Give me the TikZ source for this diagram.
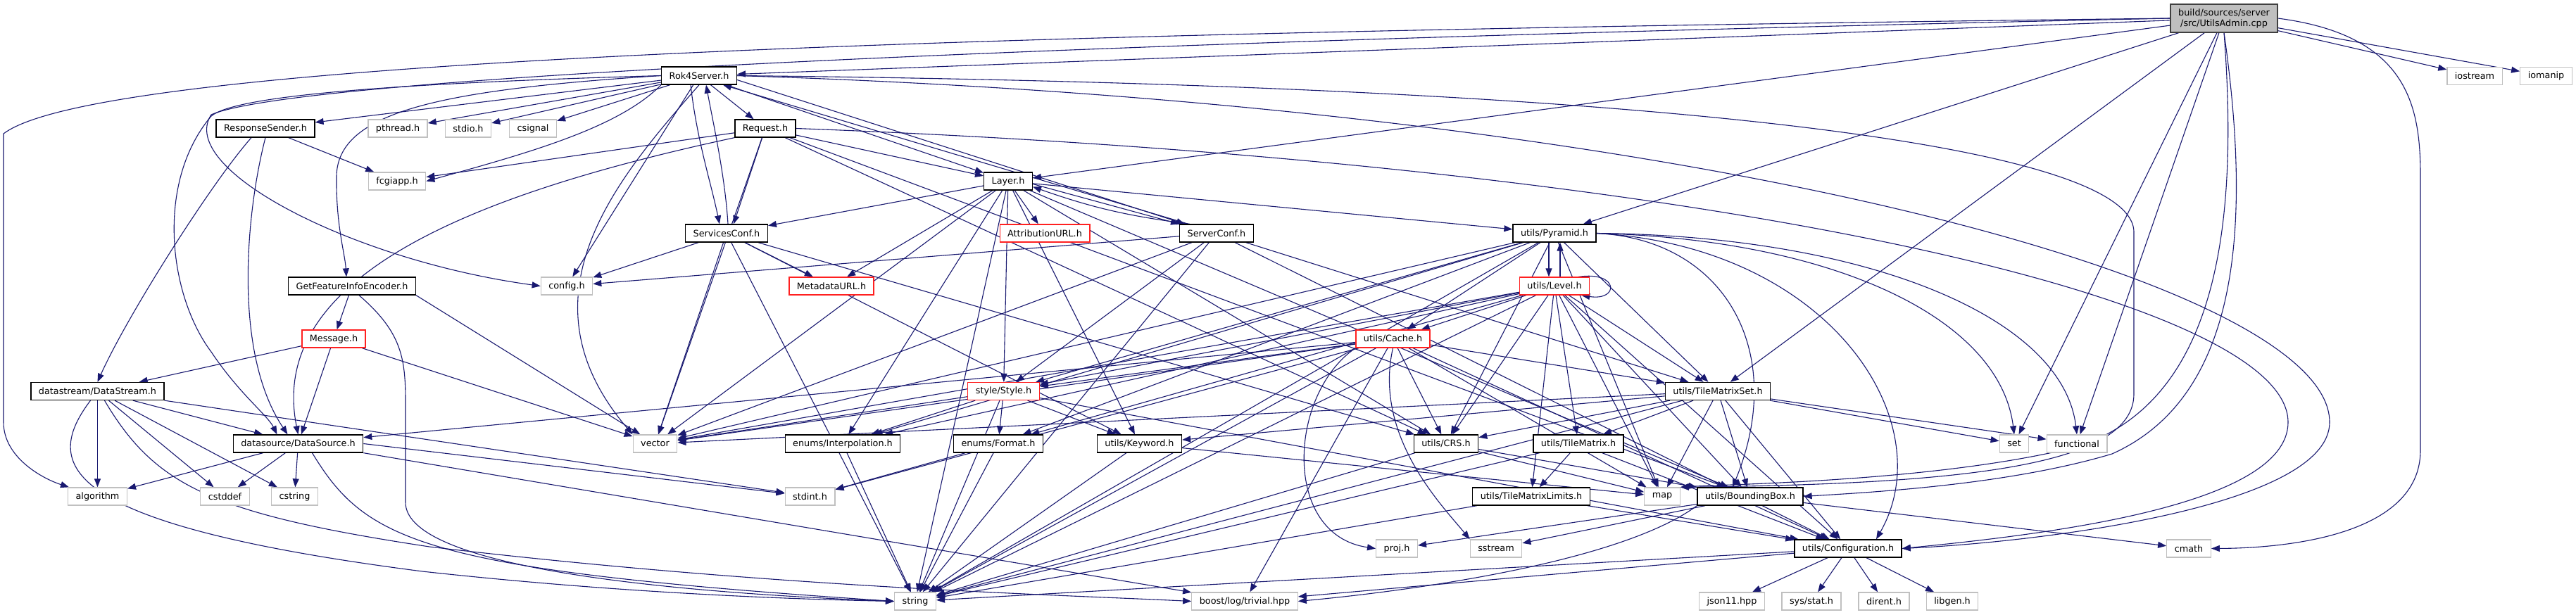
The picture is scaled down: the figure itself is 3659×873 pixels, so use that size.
\documentclass[tikz,border=0pt]{standalone}
\usepackage{fontspec}
\setmainfont{DejaVu Sans}
\usepackage{tikz}
\usetikzlibrary{arrows.meta, backgrounds}
\usepackage{xcolor}
\definecolor{DoxyEdge}{HTML}{191970}
\definecolor{DoxyFill}{HTML}{BFBFBF}
\definecolor{DoxyDark}{HTML}{404040}
\definecolor{DoxyLight}{HTML}{C0C0C0}
\definecolor{DoxyRed}{HTML}{FF2020}
\tikzset{
    % Box styles - sharp corners, one per kind of file
    mainfile/.style={
        rectangle,
        draw=DoxyDark,
        fill=DoxyFill,
        line width=1.3pt,
        inner xsep=11pt,
        inner ysep=3pt,
        minimum height=40pt,
        align=center,
        font=\fontsize{12.8}{15}\selectfont
    },
    header/.style={
        rectangle,
        draw=black,
        fill=white,
        line width=1.3pt,
        inner xsep=11pt,
        inner ysep=0pt,
        minimum height=25pt,
        font=\fontsize{12.8}{15}\selectfont
    },
    sysheader/.style={
        header,
        draw=DoxyLight
    },
    cutheader/.style={
        header,
        draw=DoxyRed
    },
    % Arrow style
    incl/.style={
        -{Triangle[length=12pt,width=9pt]},
        line width=1.1pt,
        draw=DoxyEdge
    }
}
\begin{document}
\begin{tikzpicture}[x=1pt, y=-1pt]
    \useasboundingbox (0,0) rectangle (3659,873);

    \node[mainfile] (uadmin) at (3159,26) {build/sources/server\\/src/UtilsAdmin.cpp};
    \node[header] (rok4) at (993,107.5) {Rok4Server.h};
    \node[sysheader] (iostream) at (3515,108) {iostream};
    \node[sysheader] (iomanip) at (3616.5,108) {iomanip};

    \node[header] (respsender) at (377,182.5) {ResponseSender.h};
    \node[sysheader] (pthread) at (565,182.5) {pthread.h};
    \node[sysheader] (stdio) at (665,182.5) {stdio.h};
    \node[sysheader] (csignal) at (757,182.5) {csignal};
    \node[header] (request) at (1087,182.5) {Request.h};

    \node[sysheader] (fcgiapp) at (564,257.5) {fcgiapp.h};
    \node[header] (layer) at (1432,257.5) {Layer.h};

    \node[header] (servicesconf) at (1032,331.5) {ServicesConf.h};
    \node[cutheader] (attributionurl) at (1484,331.5) {AttributionURL.h};
    \node[header] (serverconf) at (1728,331.5) {ServerConf.h};
    \node[header] (pyramid) at (2208,331.5) {utils/Pyramid.h};

    \node[header] (gfiencoder) at (500,406.5) {GetFeatureInfoEncoder.h};
    \node[sysheader] (configh) at (805,406.5) {config.h};
    \node[cutheader] (metadataurl) at (1181,406.5) {MetadataURL.h};
    \node[cutheader] (level) at (2208,406.5) {utils/Level.h};

    \node[cutheader] (message) at (474,481.5) {Message.h};
    \node[cutheader] (cache) at (1978.5,481.5) {utils/Cache.h};

    \node[header] (datastream) at (138.5,556) {datastream/DataStream.h};
    \node[cutheader] (style) at (1425.5,556) {style/Style.h};
    \node[header] (tms) at (2440,556) {utils/TileMatrixSet.h};

    \node[header] (datasource) at (423.5,630.5) {datasource/DataSource.h};
    \node[sysheader] (vector) at (930.5,630.5) {vector};
    \node[header] (interpolation) at (1197,630.5) {enums/Interpolation.h};
    \node[header] (format) at (1418,630.5) {enums/Format.h};
    \node[header] (keyword) at (1618.5,630.5) {utils/Keyword.h};
    \node[header] (crs) at (2054,630.5) {utils/CRS.h};
    \node[header] (tilematrix) at (2242,630.5) {utils/TileMatrix.h};
    \node[sysheader] (set) at (2861,630.5) {set};
    \node[sysheader] (functional) at (2950,630.5) {functional};

    \node[sysheader] (algorithm) at (138.5,705.5) {algorithm};
    \node[sysheader] (cstddef) at (319.5,705.5) {cstddef};
    \node[sysheader] (cstring) at (418.5,705.5) {cstring};
    \node[sysheader] (stdint) at (1150.5,705.5) {stdint.h};
    \node[header] (tml) at (2175,705.5) {utils/TileMatrixLimits.h};
    \node[sysheader] (map) at (2361,705.5) {map};
    \node[header] (bbox) at (2486,705.5) {utils/BoundingBox.h};

    \node[sysheader] (proj) at (1984,779.5) {proj.h};
    \node[sysheader] (sstream) at (2125,779.5) {sstream};
    \node[header] (configuration) at (2625,779.5) {utils/Configuration.h};
    \node[sysheader] (cmath) at (3109,779.5) {cmath};

    \node[sysheader] (string) at (1300,854.5) {string};
    \node[sysheader] (boost) at (1768,854.5) {boost/log/trivial.hpp};
    \node[sysheader] (json) at (2460,854.5) {json11.hpp};
    \node[sysheader] (sysstat) at (2573,854.5) {sys/stat.h};
    \node[sysheader] (dirent) at (2676,854.5) {dirent.h};
    \node[sysheader] (libgen) at (2773,854.5) {libgen.h};

    \begin{scope}[on background layer]
    \fill[white] (0,0) rectangle (3659,873);

    % UtilsAdmin.cpp
    \draw[incl] (uadmin) -- (rok4);
    \draw[incl] (uadmin) -- (iostream);
    \draw[incl] (uadmin) -- (iomanip);
    \draw[incl] (uadmin.west) .. controls (1500,45) and (150,80) .. (5,190) -- (5,600) .. controls (5,650) and (60,680) .. (algorithm);
    \draw[incl] (uadmin.west) .. controls (1500,60) and (420,110) .. (300,163) .. controls (250,240) and (500,370) .. (configh.west);
    \draw[incl] (uadmin) -- (layer);
    \draw[incl] (uadmin) -- (pyramid);
    \draw[incl] (uadmin) -- (tms);
    \draw[incl] (uadmin) -- (set);
    \draw[incl] (uadmin) -- (functional);
    \draw[incl] (uadmin.east) .. controls (3420,50) and (3438,150) .. (3438,250) -- (3438,640) .. controls (3438,760) and (3250,779) .. (cmath.east);
    \draw[incl] (uadmin.south) .. controls (3195,300) and (3190,560) .. (3000,645) .. controls (2850,690) and (2650,700) .. (bbox.east);
    \draw[incl] (uadmin.south) .. controls (3180,320) and (3150,570) .. (2950,635) .. controls (2750,685) and (2450,688) .. (map.north east);

    % Rok4Server.h
    \draw[incl] (rok4) -- (respsender);
    \draw[incl] (rok4) -- (pthread);
    \draw[incl] (rok4) -- (stdio);
    \draw[incl] (rok4) -- (csignal);
    \draw[incl] (rok4) -- (request);
    \draw[incl] (rok4.south west) .. controls (880,180) and (760,215) .. (fcgiapp.east);
    \draw[incl] (rok4.west) .. controls (620,128) and (480,160) .. (478,250) .. controls (477,320) and (490,360) .. ([xshift=-8pt]gfiencoder.north);
    \draw[incl] (rok4.west) .. controls (500,120) and (330,140) .. (300,165) .. controls (220,260) and (240,420) .. (300,500) .. controls (340,560) and (380,590) .. ([xshift=-30pt]datasource.north);
    \draw[incl] (rok4) -- (configh);
    \draw[incl] (rok4.south) .. controls (880,250) and (730,420) .. (vector.north west);
    \draw[incl] ([xshift=-12pt]rok4.south) .. controls (990,200) and (1010,260) .. ([xshift=-10pt]servicesconf.north);
    \draw[incl] (rok4) -- (layer);
    \draw[incl] ([yshift=-6pt]rok4.east) -- ([xshift=8pt]serverconf.north west);
    \draw[incl] (rok4.east) .. controls (2300,120) and (3031,200) .. (3031,330) -- (3031,560) .. controls (3031,660) and (2800,688) .. (map.north east);
    \draw[incl] (rok4.east) .. controls (2400,150) and (3309,400) .. (3309,600) .. controls (3309,720) and (2900,770) .. (configuration.east);

    % ResponseSender.h
    \draw[incl] (respsender) -- (fcgiapp);
    \draw[incl] ([xshift=-20pt]respsender.south) .. controls (300,260) and (180,450) .. (datastream.north);
    \draw[incl] (respsender.south) .. controls (350,300) and (330,500) .. ([xshift=-15pt]datasource.north);

    % Request.h
    \draw[incl] (request) -- (fcgiapp);
    \draw[incl] (request.south west) .. controls (650,280) and (380,400) .. (datasource.north);
    \draw[incl] (request) -- ([xshift=10pt]servicesconf.north);
    \draw[incl] (request) -- (layer);
    \draw[incl] (request) -- (vector);
    \draw[incl] (request) -- (crs);
    \draw[incl] (request) -- (bbox);
    \draw[incl] (request.east) .. controls (2400,230) and (3250,420) .. (3250,600) .. controls (3250,720) and (2900,760) .. (configuration.east);

    % GetFeatureInfoEncoder.h and Message.h
    \draw[incl] (gfiencoder) -- (message);
    \draw[incl] (gfiencoder.south east) -- (vector);
    \draw[incl] ([xshift=10pt]gfiencoder.south) .. controls (580,480) and (576,520) .. (576,600) -- (576,714) .. controls (576,800) and (900,840) .. (string.west);
    \draw[incl] (message) -- (datastream);
    \draw[incl] (message) -- (datasource);
    \draw[incl] (message) -- (vector);

    % DataStream.h and DataSource.h
    \draw[incl] (datastream) -- (algorithm);
    \draw[incl] (datastream) -- (cstddef);
    \draw[incl] (datastream) -- (cstring);
    \draw[incl] (datastream) -- (datasource);
    \draw[incl] (datastream.south east) -- (stdint);
    \draw[incl] ([xshift=-10pt]datastream.south) .. controls (60,660) and (80,745) .. (600,812) .. controls (900,845) and (1150,852) .. (string.west);
    \draw[incl] ([xshift=10pt]datastream.south) .. controls (220,690) and (300,730) .. (610,777) .. controls (1100,835) and (1500,845) .. (boost.west);
    \draw[incl] (datasource) -- (algorithm);
    \draw[incl] (datasource) -- (cstddef);
    \draw[incl] (datasource) -- (cstring);
    \draw[incl] (datasource.east) -- (stdint);
    \draw[incl] ([xshift=20pt]datasource.south) .. controls (520,770) and (600,810) .. (string.west);
    \draw[incl] (datasource.south east) -- (boost);

    % ServicesConf.h
    \draw[incl] ([xshift=2pt]servicesconf.north) .. controls (1030,250) and (1012,170) .. ([xshift=10pt]rok4.south);
    \draw[incl] (servicesconf) -- (configh);
    \draw[incl] (servicesconf) -- (metadataurl);
    \draw[incl] (servicesconf) -- (vector);
    \draw[incl] (servicesconf) -- (string);
    \draw[incl] (servicesconf) -- (keyword);
    \draw[incl] (servicesconf) -- (crs);

    % Layer.h
    \draw[incl] (layer) -- (attributionurl);
    \draw[incl] (layer) -- (metadataurl);
    \draw[incl] (layer) -- (servicesconf);
    \draw[incl] ([yshift=-4pt]layer.east) -- (serverconf.north west);
    \draw[incl] (layer) -- (pyramid);
    \draw[incl] (layer) -- (style);
    \draw[incl] (layer) -- (interpolation);
    \draw[incl] (layer) -- (keyword);
    \draw[incl] (layer) -- (crs);
    \draw[incl] (layer) -- (vector);
    \draw[incl] (layer) -- (string);
    \draw[incl] (layer) -- (bbox);

    % ServerConf.h
    \draw[incl] ([xshift=-40pt]serverconf.north) -- ([xshift=-20pt]rok4.south east);
    \draw[incl] ([xshift=15pt]serverconf.north west) to[bend left=6] ([yshift=-8pt]layer.east);
    \draw[incl] (serverconf) -- (configh);
    \draw[incl] (serverconf) -- (style);
    \draw[incl] (serverconf) -- (vector);
    \draw[incl] (serverconf) -- (string);
    \draw[incl] (serverconf) -- (tms);
    \draw[incl] (serverconf) -- (configuration);

    % utils/Pyramid.h
    \draw[incl] ([xshift=-8pt]pyramid.south) -- ([xshift=-8pt]level.north);
    \draw[incl] (pyramid) -- (cache);
    \draw[incl] (pyramid) -- (style);
    \draw[incl] (pyramid) -- (vector);
    \draw[incl] (pyramid) -- (string);
    \draw[incl] (pyramid) -- (interpolation);
    \draw[incl] (pyramid) -- (format);
    \draw[incl] (pyramid) -- (crs);
    \draw[incl] (pyramid) -- (tms);
    \draw[incl] (pyramid.east) .. controls (2600,340) and (2840,450) .. (set.north);
    \draw[incl] (pyramid.east) .. controls (2650,335) and (2930,450) .. (functional.north);
    \draw[incl] (pyramid) -- (map);
    \draw[incl] (pyramid.east) .. controls (2450,340) and (2540,500) .. ([xshift=-25pt]bbox.north);
    \draw[incl] (pyramid.east) .. controls (2600,350) and (2760,600) .. ([xshift=40pt]configuration.north);

    % utils/Level.h
    \draw[incl] ([xshift=8pt]level.north) -- ([xshift=8pt]pyramid.south);
    \draw[incl] ([xshift=-16pt]level.north east) .. controls (2300,385) and (2300,428) .. ([xshift=-12pt]level.south east);
    \draw[incl] (level) -- (cache);
    \draw[incl] (level) -- (style);
    \draw[incl] (level) -- (tms);
    \draw[incl] (level) -- (crs);
    \draw[incl] (level) -- (tilematrix);
    \draw[incl] (level) -- (tml);
    \draw[incl] (level) -- (interpolation);
    \draw[incl] (level) -- (format);
    \draw[incl] (level) -- (vector);
    \draw[incl] (level) -- (string);
    \draw[incl] (level) -- (map);
    \draw[incl] (level) -- (bbox);
    \draw[incl] (level) -- (configuration);

    % utils/Cache.h
    \draw[incl] (cache) -- (datasource);
    \draw[incl] (cache) -- (style);
    \draw[incl] (cache) -- (vector);
    \draw[incl] (cache) -- (stdint);
    \draw[incl] (cache) -- (tms);
    \draw[incl] (cache) -- (crs);
    \draw[incl] (cache.south west) .. controls (1830,560) and (1820,760) .. (proj.west);
    \draw[incl] (cache.south) .. controls (1950,620) and (2050,720) .. (sstream.north west);
    \draw[incl] (cache) -- (boost);
    \draw[incl] (cache) -- (map);
    \draw[incl] (cache) -- (configuration);
    \draw[incl] (cache) -- (string);

    % style/Style.h
    \draw[incl] (style) -- (interpolation);
    \draw[incl] (style) -- (format);
    \draw[incl] (style) -- (keyword);
    \draw[incl] (style) -- (vector);
    \draw[incl] (style) -- (string);
    \draw[incl] (style) -- (configuration);

    % utils/TileMatrixSet.h
    \draw[incl] (tms) -- (tilematrix);
    \draw[incl] (tms) -- (crs);
    \draw[incl] (tms) -- (keyword);
    \draw[incl] (tms) -- (vector);
    \draw[incl] (tms) -- (set);
    \draw[incl] (tms) -- (functional);
    \draw[incl] (tms) -- (map);
    \draw[incl] (tms) -- (bbox);
    \draw[incl] (tms) -- (configuration);
    \draw[incl] (tms) -- (string);

    % lower headers
    \draw[incl] (interpolation) -- (string);
    \draw[incl] (format) -- (stdint);
    \draw[incl] (format) -- (string);
    \draw[incl] (keyword) -- (string);
    \draw[incl] (keyword) -- (map);
    \draw[incl] (crs) -- (string);
    \draw[incl] (crs) -- (map);
    \draw[incl] (crs) -- (bbox);
    \draw[incl] (tilematrix) -- (tml);
    \draw[incl] (tilematrix) -- (configuration);
    \draw[incl] (tilematrix) -- (string);
    \draw[incl] (tml) -- (configuration);
    \draw[incl] (tml) -- (string);
    \draw[incl] (bbox) -- (proj);
    \draw[incl] (bbox) -- (sstream);
    \draw[incl] (bbox) -- (cmath);
    \draw[incl] (bbox.south west) .. controls (2300,800) and (2000,840) .. (boost.east);
    \draw[incl] (configuration) -- (json);
    \draw[incl] (configuration) -- (sysstat);
    \draw[incl] (configuration) -- (dirent);
    \draw[incl] (configuration) -- (libgen);
    \draw[incl] (configuration) -- (string);
    \draw[incl] (configuration) -- (boost);
    \end{scope}
\end{tikzpicture}
\end{document}
